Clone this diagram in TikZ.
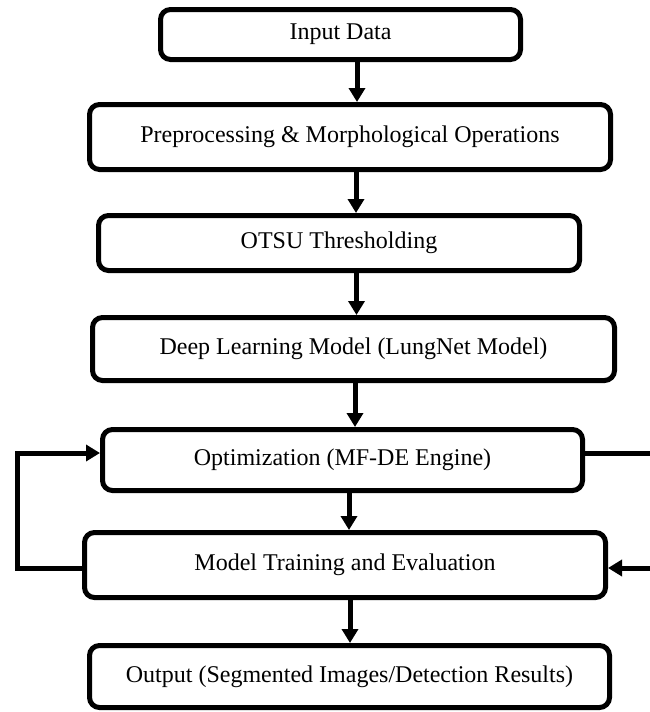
\documentclass[tikz,border=0pt]{standalone}
\usepackage{fontspec}
\setmainfont{Liberation Serif}
\usetikzlibrary{arrows.meta}
\begin{document}
\begin{tikzpicture}[x=1pt,y=-1pt,
    stage/.style={draw,line width=5pt,rounded corners=10pt,align=center,
        font=\fontsize{24}{28}\selectfont,inner sep=0pt},
    flow/.style={line width=5pt,-{Triangle[length=14pt,width=16pt]}}]
    \useasboundingbox (0,0) rectangle (650,712);
    \node [stage,minimum width=360pt,minimum height=50pt] (input) at (340.5,34.5) {Input Data};
    \node [stage,minimum width=521pt,minimum height=65pt] (prep) at (350,137) {Preprocessing \& Morphological Operations};
    \node [stage,minimum width=481pt,minimum height=55pt] (otsu) at (339,243) {OTSU Thresholding};
    \node [stage,minimum width=522pt,minimum height=63pt] (lungnet) at (353.5,349) {Deep Learning Model (LungNet Model)};
    \node [stage,minimum width=480pt,minimum height=61pt] (optim) at (342.5,460) {Optimization (MF-DE Engine)};
    \node [stage,minimum width=521pt,minimum height=65pt] (train) at (345,565) {Model Training and Evaluation};
    \node [stage,minimum width=520pt,minimum height=62pt] (output) at (349.5,676.5) {Output (Segmented Images/Detection Results)};
    % main flow
    \draw [flow] ([xshift=16.5pt]input.south) -- ([xshift=7pt]prep.north);
    \draw [flow] ([xshift=6pt]prep.south) -- ([xshift=17pt]otsu.north);
    \draw [flow] ([xshift=17.5pt]otsu.south) -- ([xshift=3pt]lungnet.north);
    \draw [flow] ([xshift=1.5pt]lungnet.south) -- ([xshift=12.5pt]optim.north);
    \draw [flow] ([xshift=6.5pt]optim.south) -- ([xshift=4pt]train.north);
    \draw [flow] ([xshift=5pt]train.south) -- ([xshift=0.5pt]output.north);
    % feedback loops
    \draw [flow] ([yshift=-3pt]train.west) -| (17,453) -- ([yshift=7pt]optim.west);
    \draw [flow] ([yshift=7pt]optim.east) -| (662,568) -- ([yshift=-3pt]train.east);
\end{tikzpicture}
\end{document}
